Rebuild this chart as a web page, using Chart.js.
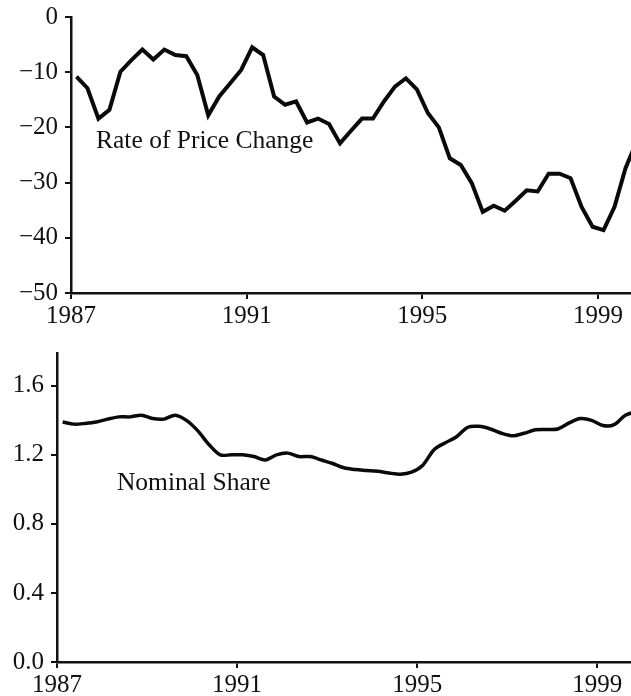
<!DOCTYPE html>
<html>
<head>
<meta charset="utf-8">
<script src="https://cdn.jsdelivr.net/npm/chart.js@4/dist/chart.umd.min.js"></script>
<style>
    html, body { margin: 0; padding: 0; background: #fff; }
    .panel { position: relative; width: 631px; }
</style>
</head>
<body>
<div class="panel" style="height: 340px"><canvas id="priceChart"></canvas></div>
<div class="panel" style="height: 356px"><canvas id="shareChart"></canvas></div>
<script>
// quarterly observations, 1987Q1 onward
const firstYear = 1987;
const yearTicks = [1987, 1991, 1995, 1999];

const priceChange = [
    -10.8, -12.9, -18.4, -16.8,
    -9.9, -7.8, -5.9, -7.7,
    -5.9, -6.9, -7.1, -10.5,
    -17.8, -14.4, -12.0, -9.6,
    -5.5, -6.9, -14.4, -15.9,
    -15.3, -19.1, -18.4, -19.4,
    -22.9, -20.6, -18.4, -18.4,
    -15.3, -12.6, -11.1, -13.1,
    -17.4, -20.0, -25.6, -26.8,
    -30.1, -35.3, -34.2, -35.1,
    -33.3, -31.4, -31.6, -28.4,
    -28.4, -29.2, -34.4, -38.0,
    -38.6, -34.4, -27.4, -22.6
];

const nominalShare = [
    1.39, 1.378, 1.382, 1.39,
    1.407, 1.42, 1.42, 1.43,
    1.41, 1.407, 1.43, 1.40,
    1.34, 1.26, 1.20, 1.20,
    1.20, 1.19, 1.17, 1.20,
    1.21, 1.19, 1.19, 1.17,
    1.15, 1.125, 1.115, 1.11,
    1.105, 1.095, 1.088, 1.10,
    1.14, 1.23, 1.27, 1.305,
    1.36, 1.365, 1.35, 1.325,
    1.31, 1.325, 1.345, 1.347,
    1.35, 1.385, 1.41, 1.40,
    1.37, 1.375, 1.43, 1.45
];

const priceTicks = [0, -10, -20, -30, -40, -50];
const shareTicks = [0.0, 0.4, 0.8, 1.2, 1.6];

const fontFamily = "'Liberation Serif', 'DejaVu Serif', serif";

function toPoints(values) {
    // plot each quarter at its midpoint
    return values.map((v, i) => ({x: firstYear + (i + 0.5) / 4, y: v}));
}

// draws the series name inside the plot at a data position
const seriesLabel = {
    id: 'seriesLabel',
    afterDatasetsDraw(chart, args, opts) {
        if (!opts.text) return;
        let ctx = chart.ctx;
        ctx.save();
        ctx.font = '25.5px ' + fontFamily;
        ctx.fillStyle = '#111';
        ctx.textAlign = 'left';
        ctx.textBaseline = 'middle';
        ctx.fillText(opts.text, chart.scales.x.getPixelForValue(opts.x), chart.scales.y.getPixelForValue(opts.y));
        ctx.restore();
    }
};

function axisStyle() {
    return {
        grid: {display: true, drawOnChartArea: false, drawTicks: true, tickLength: 6, color: '#111', lineWidth: 2},
        border: {display: true, color: '#111', width: 2.5},
        ticks: {color: '#111', font: {family: fontFamily, size: 25}, padding: 2}
    };
}

function makeChart(id, values, cfg) {
    let ctx = document.getElementById(id).getContext('2d');
    let xAxis = axisStyle();
    xAxis.type = 'linear';
    xAxis.min = firstYear;
    xAxis.max = 1999.75;
    xAxis.afterBuildTicks = scale => { scale.ticks = yearTicks.map(v => ({value: v})); };
    xAxis.ticks.callback = v => String(v);
    xAxis.ticks.maxRotation = 0;
    xAxis.afterFit = scale => {
        scale.height = cfg.xHeight;
        scale.paddingLeft = 0;
        scale.paddingRight = 0;
    };

    let yAxis = axisStyle();
    yAxis.min = cfg.yMin;
    yAxis.max = cfg.yMax;
    yAxis.afterBuildTicks = scale => { scale.ticks = cfg.yTicks.map(v => ({value: v})); };
    yAxis.ticks.callback = cfg.yFormat;
    yAxis.ticks.padding = 7;
    yAxis.afterFit = scale => {
        scale.width = cfg.yWidth;
        // let layout padding alone set the plot top
        scale.paddingTop = 0;
        scale.paddingBottom = 0;
    };

    return new Chart(ctx, {
        type: 'line',
        data: {
            datasets: [{
                data: toPoints(values),
                borderColor: '#0a0a0a',
                borderWidth: cfg.lineWidth,
                pointRadius: 0,
                tension: cfg.tension,
                borderJoinStyle: 'miter',
                fill: false
            }]
        },
        options: {
            responsive: true,
            maintainAspectRatio: false,
            animation: false,
            layout: {padding: {top: cfg.padTop, right: 0, left: 0, bottom: 0}},
            plugins: {
                legend: {display: false},
                tooltip: {enabled: false},
                seriesLabel: cfg.label
            },
            scales: {x: xAxis, y: yAxis}
        },
        plugins: [seriesLabel]
    });
}

makeChart('priceChart', priceChange, {
    yMin: -50, yMax: 0, yTicks: priceTicks,
    yFormat: v => v < 0 ? '\u2212' + Math.abs(v) : String(v),
    yWidth: 71, xHeight: 47, padTop: 17,
    lineWidth: 4, tension: 0,
    label: {text: 'Rate of Price Change', x: 1987.57, y: -22.5}
});

makeChart('shareChart', nominalShare, {
    yMin: 0, yMax: 1.79, yTicks: shareTicks,
    yFormat: v => v.toFixed(1),
    yWidth: 57, xHeight: 34, padTop: 13,
    lineWidth: 3.5, tension: 0.3,
    label: {text: 'Nominal Share', x: 1988.33, y: 1.035}
});
</script>
</body>
</html>
